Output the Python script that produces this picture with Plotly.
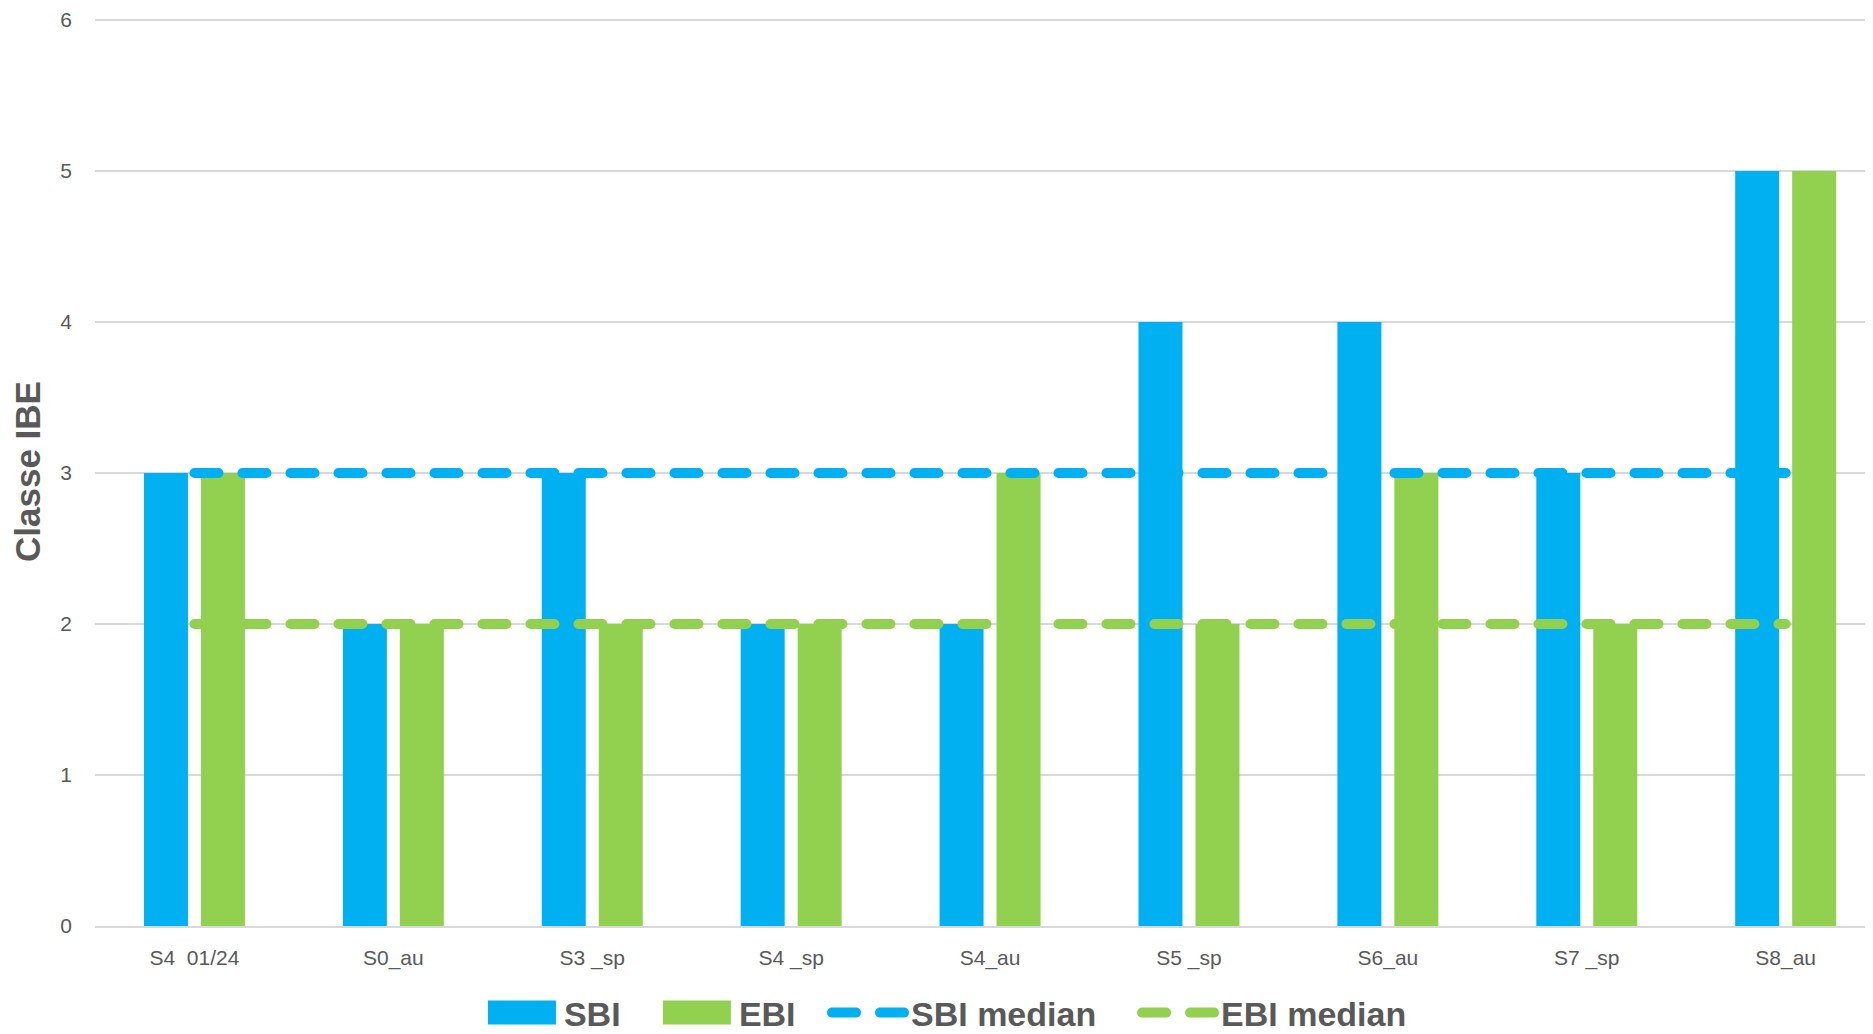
import plotly.graph_objects as go

categories = ["S4\u00a0 01/24", "S0_au", "S3 _sp", "S4 _sp", "S4_au", "S5 _sp", "S6_au", "S7 _sp", "S8_au"]
sbi_values = [3, 2, 3, 2, 2, 4, 4, 3, 5]
ebi_values = [3, 2, 2, 2, 3, 2, 3, 2, 5]
sbi_median = [3, 3, 3, 3, 3, 3, 3, 3, 3]
ebi_median = [2, 2, 2, 2, 2, 2, 2, 2, 2]
y_ticks = [0, 1, 2, 3, 4, 5, 6]

BLUE = "#00B0F0"
GREEN = "#92D050"
GREY_TEXT = "#595959"
GRID = "#D9D9D9"

fig = go.Figure()
fig.add_trace(go.Bar(x=categories, y=sbi_values, name="SBI", marker_color=BLUE,
                     marker_line_width=0, legend="legend"))
fig.add_trace(go.Bar(x=categories, y=ebi_values, name="EBI", marker_color=GREEN,
                     marker_line_width=0, legend="legend2"))
fig.add_trace(go.Scatter(x=categories, y=sbi_median, name="SBI median", mode="lines",
                         line=dict(color=BLUE, width=10, dash="24px,24px"), legend="legend3"))
fig.add_trace(go.Scatter(x=categories, y=ebi_median, name="EBI median", mode="lines",
                         line=dict(color=GREEN, width=10, dash="24px,24px"), legend="legend4"))

legend_font = dict(family="Liberation Sans, Arial, sans-serif",
                   size=34, color=GREY_TEXT, weight="bold")

def leg(x):
    return dict(x=x, xanchor="left", y=-0.0957, yanchor="middle", orientation="h",
                font=legend_font, bgcolor="rgba(0,0,0,0)", borderwidth=0, itemwidth=74)

# the page body has an 8px default margin; the figure is sized to fill the rest of the window
fig.update_layout(
    width=1865, height=1026,
    margin=dict(l=87, r=0, t=9, b=108, autoexpand=False),
    paper_bgcolor="white", plot_bgcolor="white",
    barmode="group", bargap=0.427, bargroupgap=0.228,
    showlegend=True,
    legend=leg(0.2165), legend2=leg(0.3149), legend3=leg(0.4117), legend4=leg(0.5861),
    font=dict(family="Liberation Sans, Arial, sans-serif", color=GREY_TEXT),
)
fig.update_xaxes(range=[-0.5, 8.439], showgrid=False, showline=True, linecolor=GRID, linewidth=2,
                 ticks="", tickfont=dict(size=21, color=GREY_TEXT), ticklabelstandoff=12)
fig.update_yaxes(range=[0, 6.02], tickvals=y_ticks, showgrid=True, gridcolor=GRID, gridwidth=1.5,
                 zeroline=False, showline=False, ticks="",
                 tickfont=dict(size=21, color=GREY_TEXT), ticklabelstandoff=22,
                 title=dict(text="Classe IBE", font=dict(size=35, color=GREY_TEXT, weight="bold"),
                            standoff=16))

# legend styling: round caps on dashed lines, wider swatches for the bar entries
post = """
function rc(){
  document.querySelectorAll('.scatterlayer .js-line, .legendlines path').forEach(function(p){p.style.strokeLinecap='round';});
  document.querySelectorAll('.legendpoints path').forEach(function(p){
    var d = (p.getAttribute('d') || '').replace(/\\s/g, '');
    if (d === 'M6,6H-6V-6H6Z' || p.getAttribute('data-wide') === '1') {
      p.setAttribute('d', 'M-34,12H34V-12H-34Z');
      p.setAttribute('data-wide', '1');
    }
  });
}
rc(); setTimeout(rc, 50); setTimeout(rc, 300);
"""
fig.write_html("out.html", post_script=post)
